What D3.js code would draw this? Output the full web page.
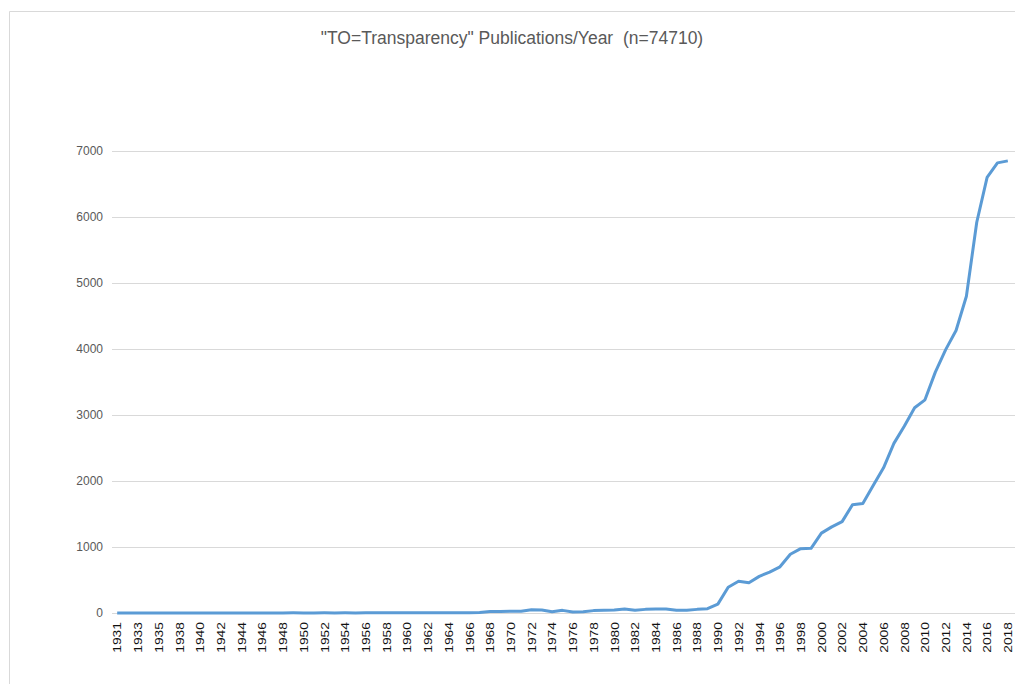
<!DOCTYPE html>
<html>
<head>
<meta charset="utf-8">
<script src="https://cdn.jsdelivr.net/npm/d3@7"></script>
<style>
    body { margin: 0; background: #fff; }
    #chart { font-family: "Liberation Sans", Arial, sans-serif; }
    .grid line { stroke: #d9d9d9; stroke-width: 1; }
    .yLabel { fill: #595959; font-size: 12px; }
    .xLabel { fill: #111; font-size: 10.5px; }
    .line { fill: none; stroke: #5b9bd5; stroke-width: 3; stroke-linejoin: round; }
</style>
</head>
<body>
<svg id="chart" width="1015" height="684"></svg>
<script>
// years as they appear on the category axis (1936 is not in the data)
var years = [1931, 1932, 1933, 1934, 1935, 1937, 1938, 1939, 1940, 1941,
    1942, 1943, 1944, 1945, 1946, 1947, 1948, 1949, 1950, 1951,
    1952, 1953, 1954, 1955, 1956, 1957, 1958, 1959, 1960, 1961,
    1962, 1963, 1964, 1965, 1966, 1967, 1968, 1969, 1970, 1971,
    1972, 1973, 1974, 1975, 1976, 1977, 1978, 1979, 1980, 1981,
    1982, 1983, 1984, 1985, 1986, 1987, 1988, 1989, 1990, 1991,
    1992, 1993, 1994, 1995, 1996, 1997, 1998, 1999, 2000, 2001,
    2002, 2003, 2004, 2005, 2006, 2007, 2008, 2009, 2010, 2011,
    2012, 2013, 2014, 2015, 2016, 2017, 2018];

// publications per year
var publications = [1, 0, 0, 1, 0, 1, 0, 1, 0, 0,
    1, 0, 0, 1, 1, 0, 1, 2, 1, 1,
    2, 1, 2, 1, 2, 3, 2, 3, 3, 2,
    4, 3, 4, 5, 4, 6, 22, 24, 25, 27,
    48, 44, 18, 40, 16, 18, 36, 40, 44, 60,
    42, 55, 60, 60, 42, 40, 55, 65, 135, 390,
    480, 458, 555, 620, 700, 890, 975, 980, 1210, 1305,
    1385, 1640, 1660, 1930, 2200, 2570, 2830, 3110, 3230, 3650,
    3990, 4280, 4800, 5920, 6600, 6820, 6850];

var yTicks = [0, 1000, 2000, 3000, 4000, 5000, 6000, 7000];
var chartTitle = '"TO=Transparency" Publications/Year  (n=74710)';

var plotLeft = 112, plotRight = 1013, plotTop = 151, plotBottom = 613;

var svg = d3.select("#chart");

// outer chart border (only top and left show in the crop)
svg.append("path")
    .attr("d", "M9.5,684V11.5H1015")
    .attr("fill", "none")
    .attr("stroke", "#d9d9d9");

svg.append("text")
    .attr("x", 512)
    .attr("y", 44)
    .attr("text-anchor", "middle")
    .attr("fill", "#595959")
    .style("font-size", "17.5px")
    .style("white-space", "pre")
    .text(chartTitle);

var xScale = d3.scalePoint()
    .domain(years)
    .range([plotLeft, plotRight])
    .padding(0.5);

var yScale = d3.scaleLinear()
    .domain([0, 7000])
    .range([plotBottom, plotTop]);

// horizontal gridlines, run out to the right edge
var yAxis = svg.append("g")
    .attr("class", "grid")
    .attr("transform", "translate(" + plotLeft + ",0)")
    .call(d3.axisLeft(yScale)
        .tickValues(yTicks)
        .tickSize(-(1015 - plotLeft))
        .tickPadding(9)
        .tickFormat(d3.format("d")));

yAxis.select(".domain").remove();
yAxis.selectAll("text")
    .attr("class", "yLabel")
    .attr("fill", null)
    .style("font-family", null);

// category axis, every other year labelled
var xAxis = svg.append("g")
    .attr("transform", "translate(0," + plotBottom + ")")
    .call(d3.axisBottom(xScale)
        .tickValues(years.filter(function (d, i) { return i % 2 == 0; }))
        .tickSize(0));

xAxis.select(".domain").remove();
xAxis.selectAll("text")
    .attr("class", "xLabel")
    .attr("fill", null)
    .style("font-family", null)
    .attr("text-anchor", "end")
    .attr("x", 0)
    .attr("y", 0)
    .attr("dy", null)
    .attr("transform", "translate(3.8,9) rotate(-90) scale(1.32,1)");

var lineGenerator = d3.line()
    .x(function (d, i) { return xScale(years[i]); })
    .y(function (d) { return yScale(d); });

svg.append("path")
    .datum(publications)
    .attr("class", "line")
    .attr("d", lineGenerator);
</script>
</body>
</html>
